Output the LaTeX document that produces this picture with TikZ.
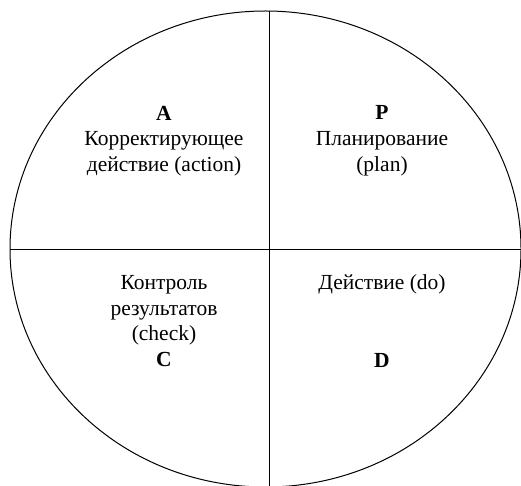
\documentclass[tikz,border=0pt]{standalone}
\usepackage{fontspec}
\setmainfont{Liberation Serif}
\usepackage{tikz}

\begin{document}
\begin{tikzpicture}[x=1pt,y=-1pt,
        quarter/.style={align=center,font=\fontsize{21.5}{25.8}\selectfont}]
        \useasboundingbox (0,0) rectangle (521,486);
        \clip (0,0) rectangle (521,486);

        \draw[line width=1pt] (265.5,249) ellipse(255.5 and 238);
        \draw[line width=1pt] (269,11) -- (269,486);
        \draw[line width=1pt] (10,249) -- (521,249);

        \node[quarter] (act) at (164,141) {\textbf{A}\\Корректирующее\\действие (action)};
        \node[quarter] (plan) at (382,141) {\textbf{P}\\Планирование\\(plan)};
        \node[quarter] (check) at (164,321) {Контроль\\результатов\\(check)\\\textbf{C}};
        \node[quarter] (do) at (382,284) {Действие (do)};
        \node[quarter] (dolet) at (382,360) {\textbf{D}};
    \end{tikzpicture}
\end{document}
